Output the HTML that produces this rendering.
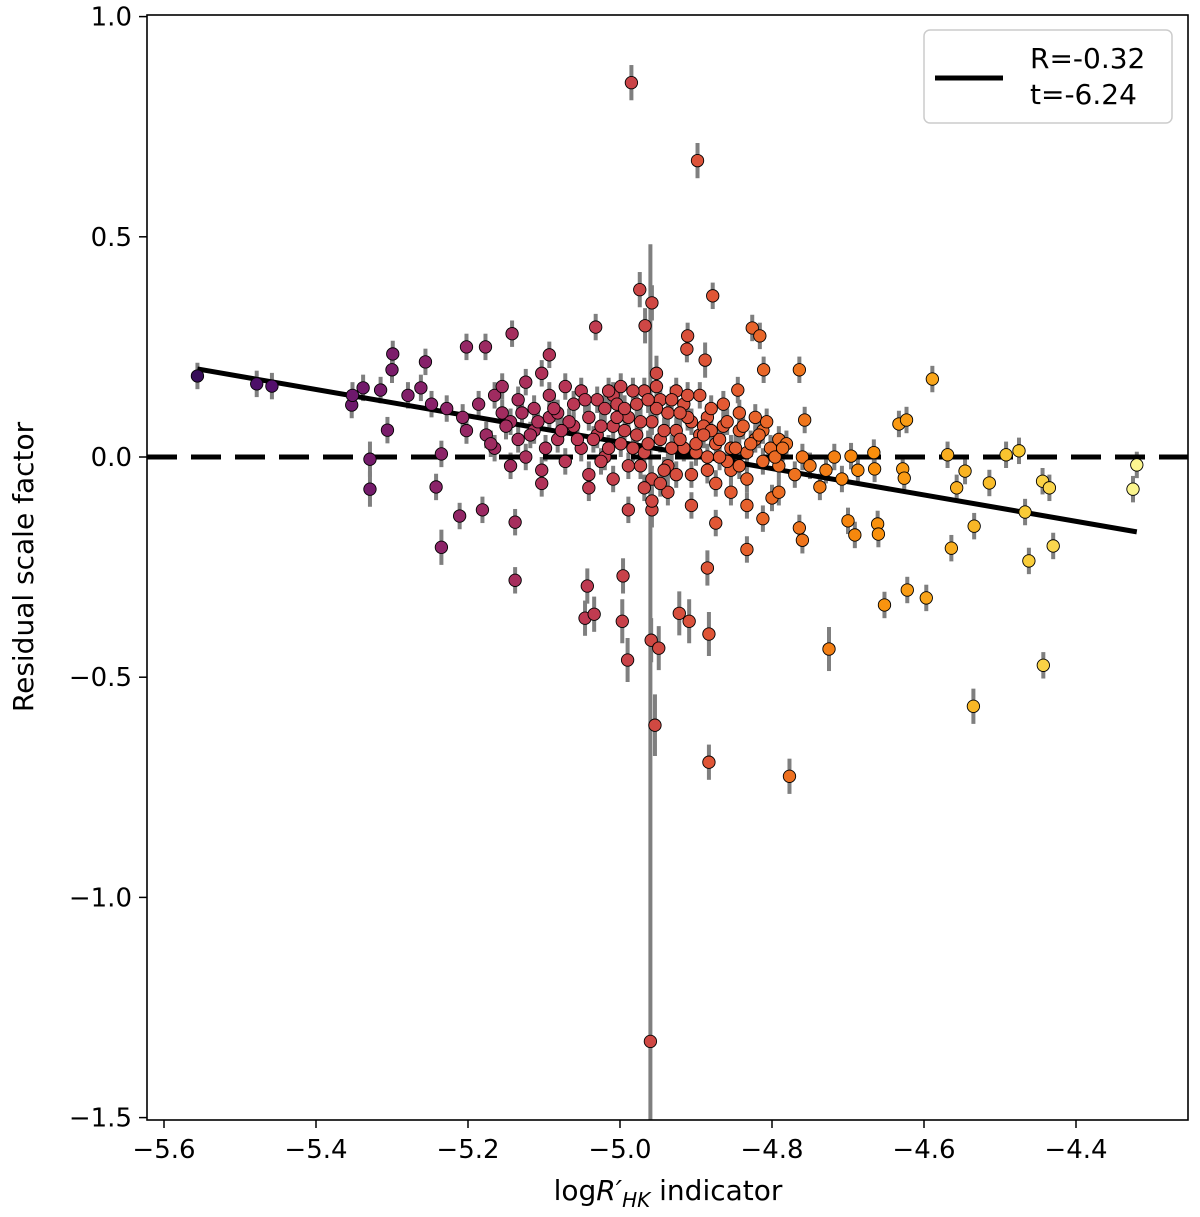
<!DOCTYPE html>
<html><head><meta charset="utf-8"><style>
html,body{margin:0;padding:0;background:#fff;}
svg{display:block;font-family:"DejaVu Sans","Liberation Sans",sans-serif;}
</style></head><body>
<svg id="chart" width="1200" height="1217" viewBox="0 0 1200 1217" xmlns="http://www.w3.org/2000/svg">
<g id="errs"></g>
<g id="lines"></g>
<g id="pts"></g>
<rect x="147" y="15" width="1041" height="1105" fill="none" stroke="#000" stroke-width="1.6"/>
<g id="axes"></g>
<text x="25" y="567" transform="rotate(-90 25 567)" text-anchor="middle" font-size="28" dominant-baseline="middle">Residual scale factor</text>
<text x="668" y="1200" text-anchor="middle" font-size="28">log<tspan font-style="italic">R′</tspan><tspan font-style="italic" font-size="20" dy="7">HK</tspan><tspan dy="-7"> indicator</tspan></text>
<g>
<rect x="924" y="30" width="248" height="93" rx="6" fill="#fff" fill-opacity="0.85" stroke="#ccc" stroke-width="1.5"/>
<line x1="935" y1="78" x2="1003" y2="78" stroke="#000" stroke-width="5"/>
<text x="1030" y="68" font-size="28">R=-0.32</text>
<text x="1030" y="104" font-size="28">t=-6.24</text>
</g>
</svg>
<script>
const xVals=[-5.556,-5.478,-5.458,-5.353,-5.338,-5.315,-5.329,-5.329,-5.306,-5.299,-5.300,-5.256,-5.262,-5.242,-5.235,-5.235,-5.202,-5.211,-5.177,-5.181,-5.142,-5.138,-5.138,-5.093,-5.043,-5.046,-5.034,-5.032,-4.997,-4.996,-4.990,-4.985,-4.974,-4.967,-4.958,-4.952,-4.959,-4.949,-4.954,-4.960,-4.958,-4.922,-4.909,-4.898,-4.911,-4.912,-4.888,-4.878,-4.885,-4.883,-4.883,-4.845,-4.826,-4.816,-4.811,-4.800,-4.777,-4.764,-4.757,-4.764,-4.760,-4.725,-4.737,-4.700,-4.691,-4.661,-4.660,-4.696,-4.665,-4.652,-4.633,-4.623,-4.628,-4.626,-4.622,-4.597,-4.589,-4.569,-4.564,-4.557,-4.546,-4.534,-4.514,-4.535,-4.492,-4.475,-4.467,-4.462,-4.444,-4.435,-4.443,-4.430,-4.325,-4.320];
const yVals=[0.184,0.166,0.161,0.118,0.157,0.152,-0.005,-0.073,0.061,0.234,0.198,0.216,0.157,-0.068,0.007,-0.205,0.25,-0.134,0.25,-0.12,0.28,-0.148,-0.28,0.232,-0.293,-0.366,-0.357,0.295,-0.373,-0.27,-0.461,0.85,0.38,0.298,0.35,0.19,-0.416,-0.434,-0.609,-1.327,-0.12,-0.355,-0.373,0.673,0.275,0.245,0.22,0.366,-0.252,-0.402,-0.693,0.152,0.293,0.275,0.198,-0.093,-0.725,0.198,0.084,-0.161,-0.189,-0.436,-0.068,-0.145,-0.177,-0.152,-0.175,0.002,-0.027,-0.336,0.075,0.084,-0.027,-0.048,-0.302,-0.32,0.177,0.005,-0.207,-0.07,-0.032,-0.157,-0.059,-0.566,0.005,0.014,-0.125,-0.236,-0.055,-0.07,-0.473,-0.202,-0.073,-0.018];
const errVals=[0.03,0.03,0.03,0.03,0.03,0.03,0.04,0.04,0.03,0.03,0.03,0.03,0.03,0.03,0.03,0.04,0.03,0.03,0.03,0.03,0.03,0.03,0.03,0.03,0.04,0.04,0.04,0.03,0.05,0.04,0.05,0.04,0.04,0.04,0.04,0.04,0.05,0.05,0.07,1.81,0.04,0.05,0.05,0.04,0.03,0.03,0.04,0.03,0.04,0.05,0.04,0.03,0.03,0.03,0.03,0.03,0.04,0.03,0.03,0.03,0.03,0.05,0.03,0.03,0.03,0.03,0.03,0.03,0.03,0.03,0.03,0.03,0.03,0.03,0.03,0.03,0.03,0.03,0.03,0.03,0.03,0.03,0.03,0.04,0.03,0.03,0.03,0.03,0.03,0.03,0.03,0.03,0.03,0.03];
const clusterX=[-5.186,-5.176,-5.165,-5.165,-5.155,-5.155,-5.144,-5.144,-5.134,-5.134,-5.124,-5.124,-5.113,-5.113,-5.103,-5.103,-5.093,-5.093,-5.082,-5.082,-5.072,-5.072,-5.061,-5.061,-5.051,-5.051,-5.041,-5.041,-5.030,-5.030,-5.020,-5.020,-5.009,-5.009,-4.999,-4.999,-4.989,-4.989,-4.978,-4.978,-4.968,-4.968,-4.958,-4.958,-4.947,-4.947,-4.937,-4.937,-4.926,-4.926,-4.916,-4.916,-4.906,-4.906,-4.895,-4.895,-4.885,-4.885,-4.874,-4.874,-4.864,-4.864,-4.854,-4.854,-4.843,-4.843,-4.833,-4.833,-4.822,-4.822,-4.812,-4.812,-4.802,-4.791,-4.791,-4.781,-4.770,-4.760,-4.750,-4.729,-4.718,-4.708,-4.687,-4.666,-5.041,-4.958,-4.937,-4.906,-4.854,-4.833,-4.812,-4.791,-4.833,-4.874,-4.989,-5.103,-5.207,-5.228,-5.248,-5.279,-5.352,
-5.025,-5.015,-5.004,-4.994,-4.983,-4.973,-4.963,-4.952,-4.942,-4.932,-4.921,-4.911,-4.900,-4.890,-4.880,-4.869,-4.859,-4.848,-5.025,-5.004,-4.983,-4.963,-4.942,-4.921,-4.900,-4.880,-4.859,-5.015,-4.994,-4.973,-4.952,-4.932,-4.911,-4.890,-4.869,-5.067,-5.056,-5.046,-5.077,-5.087,-5.098,-5.108,-5.118,-5.129,-5.150,-5.170,-5.202,-4.838,-4.828,-4.817,-4.807,-4.796,-4.786,-5.035,-4.947,-4.926,-4.968,-5.009,-4.885,-4.843];
const clusterY=[0.12,0.05,0.14,0.02,0.10,0.16,0.08,-0.02,0.13,0.04,0.17,0.00,0.11,0.06,0.19,-0.03,0.09,0.14,0.04,0.10,0.16,-0.01,0.07,0.12,0.02,0.15,0.09,-0.04,0.13,0.05,0.11,0.00,0.14,0.07,0.03,0.16,0.09,-0.02,0.12,0.05,0.15,0.01,0.08,-0.05,0.13,0.04,0.10,-0.02,0.15,0.06,0.02,0.12,0.08,-0.04,0.05,0.14,0.00,0.09,0.03,-0.06,0.07,0.12,0.02,-0.03,0.06,0.10,0.01,-0.05,0.04,0.09,-0.01,0.06,0.02,0.04,-0.02,0.03,-0.04,0.00,-0.02,-0.03,0.00,-0.05,-0.03,0.01,-0.07,-0.10,-0.08,-0.11,-0.08,-0.11,-0.14,-0.08,-0.21,-0.15,-0.12,-0.06,0.09,0.11,0.12,0.14,0.14,
0.07,0.02,0.12,0.06,0.15,0.08,0.03,0.11,0.06,0.13,0.04,0.09,0.01,0.07,0.11,0.04,0.08,0.02,-0.01,0.09,0.02,0.13,-0.03,0.10,0.03,0.06,-0.01,0.15,0.11,-0.02,0.16,0.02,0.14,0.05,0.00,0.08,0.04,0.13,0.06,0.11,0.02,0.08,0.05,0.10,0.07,0.03,0.06,0.07,0.03,0.05,0.08,0.00,0.02,0.04,-0.06,-0.04,-0.07,-0.05,-0.03,-0.02];
const clusterErr=0.03;
const xTicks=[-5.6,-5.4,-5.2,-5.0,-4.8,-4.6,-4.4];
const xTickLabels=["−5.6","−5.4","−5.2","−5.0","−4.8","−4.6","−4.4"];
const yTicks=[1.0,0.5,0.0,-0.5,-1.0,-1.5];
const yTickLabels=["1.0","0.5","0.0","−0.5","−1.0","−1.5"];
const fitX=[-5.556,-4.32];
const fitY=[0.20,-0.17];

const NS="http://www.w3.org/2000/svg";
const X=v=>164+(v+5.6)*760;
const Y=v=>457-v*440.4;
const inferno=[[0,[0,0,4]],[0.13,[31,12,72]],[0.25,[85,15,109]],[0.38,[136,34,106]],[0.5,[186,54,85]],[0.63,[227,89,51]],[0.75,[249,140,10]],[0.88,[249,201,50]],[1,[252,255,164]]];
function cmap(x){let t=0.18+0.8*(x+5.56)/1.24;t=Math.max(0,Math.min(1,t));
 for(let i=1;i<inferno.length;i++){if(t<=inferno[i][0]){const a=inferno[i-1],b=inferno[i];const f=(t-a[0])/(b[0]-a[0]);
 return `rgb(${a[1].map((c,k)=>Math.round(c+(b[1][k]-c)*f)).join(',')})`;}}return 'rgb(252,255,164)';}
function mk(tag,attrs,parent){const e=document.createElementNS(NS,tag);for(const k in attrs)e.setAttribute(k,attrs[k]);parent.appendChild(e);return e;}
const errs=document.getElementById('errs'),pts=document.getElementById('pts'),lines=document.getElementById('lines'),axes=document.getElementById('axes');
const all=[];
xVals.forEach((x,i)=>all.push([x,yVals[i],errVals[i]]));
clusterX.forEach((x,i)=>all.push([x,clusterY[i],clusterErr]));
all.forEach(p=>{const top=Math.max(15,Y(p[1]+p[2])),bot=Math.min(1120,Y(p[1]-p[2]));
 const e=mk('line',{x1:X(p[0]),x2:X(p[0]),y1:top,y2:bot,stroke:'#7f7f7f','stroke-width':4},errs);
 
 });
const z=mk('line',{x1:147,x2:1188,y1:Y(0),y2:Y(0),stroke:'#000','stroke-width':5,'stroke-dasharray':'30 14'},lines);


const f=mk('line',{x1:X(fitX[0]),y1:Y(fitY[0]),x2:X(fitX[1]),y2:Y(fitY[1]),stroke:'#000','stroke-width':5},lines);


all.forEach(p=>{const c=mk('circle',{cx:X(p[0]),cy:Y(p[1]),r:6.2,fill:cmap(p[0]),stroke:'#000','stroke-width':0.9},pts);
 
 });
xTicks.forEach((v,i)=>{const l=mk('line',{x1:X(v),x2:X(v),y1:1120,y2:1128,stroke:'#000','stroke-width':1.5},axes);
 
 
 const t=mk('text',{x:X(v),y:1158,'text-anchor':'middle','font-size':26},axes);t.textContent=xTickLabels[i];
 
 });
yTicks.forEach((v,i)=>{const l=mk('line',{x1:139,x2:147,y1:Y(v),y2:Y(v),stroke:'#000','stroke-width':1.5},axes);
 
 
 const t=mk('text',{x:132,y:Y(v)+9,'text-anchor':'end','font-size':26},axes);t.textContent=yTickLabels[i];
 
 });
</script>
</body></html>
